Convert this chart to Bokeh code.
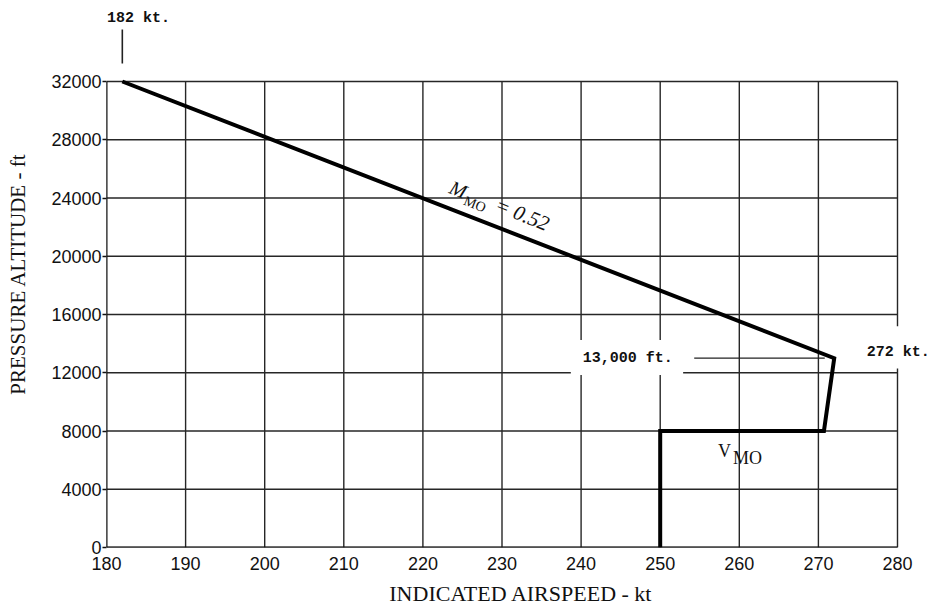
import math
from bokeh.plotting import figure
from bokeh.models import Range1d, FixedTicker, Label, BoxAnnotation
from bokeh.embed import file_html
from bokeh.resources import INLINE

# ---- data ----
speed_kt = [182, 272, 270.7, 250, 250]
altitude_ft = [32000, 13000, 8000, 8000, 0]
x_ticks = [180, 190, 200, 210, 220, 230, 240, 250, 260, 270, 280]
y_ticks = [0, 4000, 8000, 12000, 16000, 20000, 24000, 28000, 32000]
leader_x = [254.3, 270.8]          # leader line of the "13,000 ft." note
leader_y = [13000, 13000]
marker_x = [182, 182]              # small tick above the chart for "182 kt."
marker_y = [33236, 35572]

# ---- layout (pixels) ----
W, H = 935, 612
BL, BR, BT, BB = 106, 0, 0, 65
GRID_W, GRID_H = 791, 466           # pixel size of the 180-280 x 0-32000 grid
X0, X1 = x_ticks[0], x_ticks[-1]
Y0, Y1 = y_ticks[0], y_ticks[-1]
FW = W - BL - BR
FH = H - BT - BB
ppx = GRID_W / (X1 - X0)
ppy = GRID_H / (Y1 - Y0)
x_end = X0 + FW / ppx
y_end = Y0 + FH / ppy

p = figure(width=W, height=H, x_range=Range1d(X0, x_end), y_range=Range1d(Y0, y_end),
           output_backend="svg", toolbar_location=None,
           min_border_left=BL, min_border_right=BR, min_border_top=BT, min_border_bottom=BB)
p.outline_line_color = None
p.background_fill_color = "white"
p.border_fill_color = "white"
p.grid.grid_line_color = None

xt = FixedTicker(ticks=x_ticks)
yt = FixedTicker(ticks=y_ticks)
p.xaxis.ticker = xt
p.yaxis.ticker = yt

for ax in (p.xaxis, p.yaxis):
    ax.axis_line_color = None
    ax.minor_tick_in = 0
    ax.minor_tick_out = 0
    ax.major_tick_in = 0
    ax.major_label_text_font = "Liberation Sans"
    ax.major_label_text_font_size = "18px"
    ax.major_label_text_color = "#111111"
    ax.axis_label_text_font = "Liberation Serif"
    ax.axis_label_text_font_style = "normal"
    ax.axis_label_text_color = "#111111"
p.xaxis.major_tick_out = 0
p.xaxis.major_label_standoff = 9
p.xaxis.axis_label = "INDICATED AIRSPEED - kt"
p.xaxis.axis_label_text_font_size = "22px"
p.xaxis.axis_label_standoff = 8
p.yaxis.major_tick_out = 4
p.yaxis.major_tick_line_color = "#111111"
p.yaxis.major_tick_line_width = 1.5
p.yaxis.major_label_standoff = 1
p.yaxis.axis_label = "PRESSURE ALTITUDE - ft"
p.yaxis.axis_label_text_font_size = "21px"
p.yaxis.axis_label_standoff = 18

# grid (bounded to the chart area) from the tick arrays
nx, ny = len(x_ticks), len(y_ticks)
p.segment(x0=x_ticks, y0=[Y0] * nx, x1=x_ticks, y1=[Y1] * nx,
          line_color="#262626", line_width=1.4)
p.segment(x0=[X0] * ny, y0=y_ticks, x1=[X1] * ny, y1=y_ticks,
          line_color="#262626", line_width=1.4)
# axis edges slightly heavier
p.segment(x0=[X0, X0], y0=[Y0, Y0], x1=[X0, X1], y1=[Y1, Y0],
          line_color="#111111", line_width=1.8)

# main limit line
p.line(speed_kt, altitude_ft, line_color="black", line_width=4, line_join="miter")
# leader line and marker tick
p.line(leader_x, leader_y, line_color="#222222", line_width=1.2)
p.line(marker_x, marker_y, line_color="#222222", line_width=1.6)

# white boxes behind annotations
p.add_layout(BoxAnnotation(left=238.7, right=252.9, bottom=11850, top=14250,
                           fill_color="white", fill_alpha=1.0, line_color=None))
p.add_layout(BoxAnnotation(left=274.6, right=x_end + 1, bottom=12300, top=15190,
                           fill_color="white", fill_alpha=1.0, line_color=None))

mono = dict(text_font="Liberation Mono", text_font_style="bold", text_font_size="15px",
            text_color="#111111")
p.add_layout(Label(x=245.9, y=13000, text="13,000 ft.", text_align="center",
                   text_baseline="middle", **mono))
p.add_layout(Label(x=280.1, y=13375, text="272 kt.", text_align="center",
                   text_baseline="middle", **mono))
p.add_layout(Label(x=X0 + 0.05, y=36327, text="182 kt.", text_align="left",
                   text_baseline="middle", **mono))

# M_MO = 0.52 along the line
ang = -22.0
u = (math.cos(math.radians(-ang)), math.sin(math.radians(-ang)))   # along text (screen, y down)
n = (-u[1], u[0])                                                    # text-down direction
def shift(x, y, along, down):
    sx = along * u[0] + down * n[0]
    sy = along * u[1] + down * n[1]
    return x + sx / ppx, y - sy / ppy

serif = "Liberation Serif"
mx, my = 222.98, 24104
p.add_layout(Label(x=mx, y=my, text="M", angle=ang, angle_units="deg", text_font=serif,
                   text_font_style="italic", text_font_size="20px", text_color="#111111"))
sx_, sy_ = shift(mx, my, 18, 4)
p.add_layout(Label(x=sx_, y=sy_, text="MO", angle=ang, angle_units="deg", text_font=serif,
                   text_font_size="14px", text_color="#111111"))
ex_, ey_ = shift(mx, my, 49, 0)
p.add_layout(Label(x=ex_, y=ey_, text="= 0.52", angle=ang, angle_units="deg", text_font=serif,
                   text_font_style="italic", text_font_size="21px", text_color="#111111"))

# V_MO
p.add_layout(Label(x=257.3, y=5960, text="V", text_font=serif, text_font_size="18px",
                   text_color="#111111"))
p.add_layout(Label(x=259.2, y=5490, text="MO", text_font=serif, text_font_size="18px",
                   text_color="#111111"))

open("out.html", "w").write(file_html(p, INLINE))
